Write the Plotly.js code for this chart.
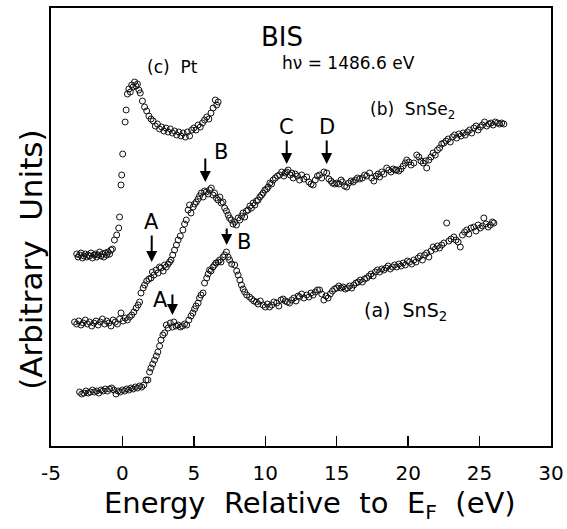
<!DOCTYPE html>
<html>
<head>
<meta charset="utf-8">
<script src="https://cdn.plot.ly/plotly-3.0.1.min.js"></script>
<style>html,body{margin:0;padding:0;background:#fff;}#chart{width:567px;height:529px;}</style>
</head>
<body>
<div id="chart"></div>
<script>
// (c) Pt
const ptE = [-3.2,-3.1,-3.0,-2.9,-2.8,-2.7,-2.6,-2.5,-2.4,-2.3,-2.2,-2.1,-2.0,-1.9,-1.8,-1.7,-1.6,-1.5,-1.4,-1.3,-1.2,-1.1,-1.0,-0.9,
  -0.8,-0.7,-0.56,-0.4,-0.26,-0.2,-0.1,-0.05,0.02,0.19,0.26,0.35,0.45,0.55,0.65,0.75,0.85,0.95,1.05,1.15,1.25,
  1.4,1.55,1.7,1.85,2.0,2.15,2.3,2.45,2.6,2.75,2.9,3.05,3.2,3.35,3.5,3.65,3.8,3.95,4.1,4.25,4.4,4.55,4.7,4.85,
  5.0,5.15,5.3,5.45,5.6,5.75,5.9,6.05,6.2,6.35,6.5,6.6,6.7];
const ptY = [192,189,191,193,188,190,192,189,191,190,193,188,191,192,189,191,194,190,192,189,193,191,194,192,
  196,197,206,211,218,229,261,271,292,324,336,352,357,354,361,359,364,360,362,356,353,
  345,339,335,330,327,325,320,322,317,319,315,318,314,317,313,315,311,314,310,313,309,314,310,316,
  318,316,321,319,323,326,329,327,333,338,346,341,344];

// (b) SnSe2
const seE = [-3.35,-3.2,-3.05,-2.9,-2.75,-2.6,-2.45,-2.3,-2.15,-2.0,-1.85,-1.7,-1.55,-1.4,-1.25,-1.1,-0.95,-0.8,-0.65,-0.5,-0.35,-0.2,-0.1,0.05,0.2,0.35,0.5,0.65,0.8,0.96,1.1,1.2,1.3,1.45,1.55,1.7,1.85,2.0,2.1,2.2,2.36,2.5,2.6,2.7,2.85,2.95,3.07,3.2,3.3,3.4,3.52,3.65,3.78,3.9,4.05,4.23,4.35,4.47,4.6,4.7,4.8,4.95,5.05,5.17,5.3,5.4,5.52,5.65,5.75,5.87,6.0,6.1,6.22,6.34,6.45,6.58,6.7,6.82,6.92,7.04,7.16,7.28,7.4,7.5,7.62,7.74,7.86,7.98,8.1,8.22,8.34,8.44,8.56,8.68,8.8,8.92,9.03,9.15,9.27,9.38,9.5,9.62,9.74,9.85,9.97,10.1,10.2,10.32,10.44,10.55,10.7,10.85,11.0,11.15,11.3,11.4,11.5,11.6,11.75,11.85,11.95,12.1,12.25,12.4,12.55,12.7,12.9,13.05,13.2,13.35,13.5,13.65,13.8,13.95,14.1,14.3,14.45,14.6,14.7,14.85,15.0,15.15,15.3,15.4,15.55,15.7,15.85,16.0,16.15,16.3,16.45,16.6,16.8,16.95,17.1,17.3,17.45,17.6,17.75,17.9,18.0,18.15,18.3,18.5,18.65,18.8,18.95,19.1,19.2,19.35,19.5,19.65,19.8,19.9,20.05,20.2,20.4,20.6,20.75,20.9,21.05,21.2,21.3,21.45,21.6,21.75,21.9,22.05,22.2,22.35,22.5,22.65,22.8,22.95,23.1,23.25,23.4,23.55,23.7,23.85,24.0,24.15,24.3,24.45,24.6,24.75,24.9,25.05,25.2,25.35,25.5,25.65,25.8,25.95,26.1,26.25,26.4,26.55,26.7];
const seY = [124,122,125,121,123,126,122,124,120,123,125,121,124,127,122,125,123,120,126,124,122,127,133,125,128,126,129,131,134,138,141,144,153,158,161,165,167,168,174,171,176,173,179,178,175,181,179,182,184,186,191,196,201,206,210,216,222,226,236,241,233,239,242,244,247,250,253,249,255,254,252,256,258,251,253,248,246,249,243,244,238,235,231,228,226,222,224,221,228,226,230,233,229,235,236,240,238,243,241,245,246,249,251,253,256,257,259,263,262,266,268,270,271,274,270,273,274,276,271,273,268,272,270,266,271,267,269,264,262,261,266,270,271,268,274,273,267,265,263,262,263,262,266,264,260,259,263,265,264,266,268,267,268,271,270,273,268,265,270,272,269,274,272,278,276,274,277,276,276,275,277,280,283,286,284,281,283,291,289,285,283,285,278,286,289,293,291,296,298,302,303,305,307,304,309,311,308,312,310,313,311,314,316,313,318,320,316,319,321,324,320,322,323,321,324,323,322,323,322];

// (a) SnS2
const sE = [-3.0,-2.85,-2.7,-2.55,-2.4,-2.25,-2.1,-1.95,-1.8,-1.65,-1.5,-1.35,-1.2,-1.05,-0.9,-0.75,-0.6,-0.45,-0.3,-0.15,0.0,0.15,0.3,0.45,0.6,0.75,0.9,1.05,1.2,1.35,1.5,1.65,1.78,1.9,2.0,2.12,2.25,2.37,2.48,2.6,2.7,2.83,2.95,3.07,3.2,3.35,3.5,3.6,3.75,3.9,4.05,4.2,4.35,4.5,4.65,4.8,4.93,5.05,5.15,5.3,5.4,5.5,5.64,5.75,5.9,6.0,6.1,6.2,6.34,6.45,6.55,6.7,6.8,6.9,7.04,7.15,7.28,7.4,7.5,7.65,7.86,8.0,8.1,8.22,8.33,8.45,8.56,8.7,8.9,9.05,9.2,9.38,9.5,9.65,9.85,10.0,10.15,10.3,10.45,10.6,10.8,10.95,11.1,11.25,11.4,11.55,11.7,11.85,12.0,12.15,12.3,12.4,12.55,12.7,12.9,13.05,13.2,13.35,13.5,13.65,13.8,13.95,14.1,14.25,14.4,14.55,14.7,14.85,15.0,15.15,15.3,15.45,15.6,15.75,15.9,16.05,16.2,16.35,16.5,16.65,16.8,16.95,17.1,17.25,17.4,17.55,17.7,17.85,18.0,18.15,18.3,18.45,18.6,18.75,18.9,19.05,19.2,19.35,19.5,19.65,19.8,19.95,20.1,20.25,20.4,20.55,20.7,20.85,21.0,21.15,21.3,21.45,21.6,21.75,21.9,22.05,22.2,22.35,22.5,22.7,22.85,23.0,23.2,23.35,23.5,23.65,23.8,23.95,24.1,24.25,24.4,24.6,24.75,24.9,25.05,25.2,25.3,25.45,25.6,25.75,25.9,26.0];
const sY = [54,52,53,55,53,54,56,54,55,53,56,55,57,55,57,58,56,52,55,54,56,55,57,56,58,57,59,58,60,59,61,66,66,74,78,82,86,90,94,100,106,111,113,121,118,123,119,124,120,121,119,120,122,121,126,130,133,137,140,143,148,151,153,163,168,172,176,175,179,181,183,184,186,184,189,191,194,189,186,182,181,175,171,166,161,157,154,151,149,147,145,144,142,145,141,139,142,139,141,144,143,140,146,147,145,144,143,146,148,145,150,149,152,148,151,149,153,151,154,156,156,152,146,150,148,152,155,157,158,160,158,159,157,158,160,158,161,163,164,166,164,167,168,170,172,170,174,176,174,177,176,178,180,177,179,181,179,182,180,183,181,185,184,182,186,184,188,190,186,191,193,189,195,199,197,200,198,201,203,223,205,207,209,206,204,199,211,214,216,212,218,219,215,221,218,220,228,222,219,221,224,223];

const tickVals = [-5, 0, 5, 10, 15, 20, 25, 30];
const tickText = ['-5', '0', '5', '10', '15', '20', '25', '30'];

const FONT = '"DejaVu Sans", "Liberation Sans", sans-serif';
const mk = {symbol: 'circle-open', size: 6, color: '#111', line: {width: 1, color: '#111'}};
const traces = [
  {x: ptE, y: ptY, mode: 'markers', type: 'scatter', marker: mk, name: 'Pt'},
  {x: seE, y: seY, mode: 'markers', type: 'scatter', marker: mk, name: 'SnSe2'},
  {x: sE, y: sY, mode: 'markers', type: 'scatter', marker: mk, name: 'SnS2'}
];

function arrow(x, y, ay, t) {
  return {x: x, y: y, xref: 'x', yref: 'y', text: t || '', showarrow: true, ax: 0, ay: ay,
    arrowhead: 2, arrowsize: 1.1, arrowwidth: 2, arrowcolor: '#000',
    font: {family: FONT, size: 21, color: '#000'}};
}
function lbl(x, y, t, s) {
  return {x: x, y: y, xref: 'x', yref: 'y', text: t, showarrow: false,
    font: {family: FONT, size: s || 21, color: '#000'}};
}
function ptxt(x, y, t, s) {
  return {x: x, y: y, xref: 'paper', yref: 'paper', text: t, showarrow: false,
    xanchor: 'center', yanchor: 'middle', font: {family: FONT, size: s, color: '#000'}};
}

const layout = {
  width: 567, height: 529,
  margin: {l: 51, r: 16, t: 8, b: 83},
  paper_bgcolor: '#fff', plot_bgcolor: '#fff',
  showlegend: false,
  xaxis: {range: [-5, 30], tickmode: 'array', tickvals: tickVals, ticktext: tickText, ticks: 'inside', ticklen: 10, tickwidth: 1.5,
    tickcolor: '#000', showline: true, mirror: true, linewidth: 2, linecolor: '#000', showgrid: false,
    zeroline: false, ticklabelstandoff: 8, tickfont: {family: FONT, size: 20, color: '#000'}},
  yaxis: {range: [0, 438], showticklabels: false, ticks: '', showline: true, mirror: true, linewidth: 2,
    linecolor: '#000', showgrid: false, zeroline: false},
  annotations: [
    ptxt(-0.04, 0.425, '(Arbitrary  Units)', 31),
    ptxt(0.518, -0.135, 'Energy  Relative  to  E<sub>F</sub>  (eV)', 29),
    ptxt(0.462, 0.934, 'BIS', 26),
    ptxt(0.594, 0.874, 'hν = 1486.6 eV', 17),
    ptxt(0.242, 0.865, '(c)  Pt', 17),
    ptxt(0.722, 0.767, '(b)  SnSe<sub>2</sub>', 17),
    ptxt(0.708, 0.306, '(a)  SnS<sub>2</sub>', 19),
    arrow(2.05, 184, -40, 'A'),
    arrow(5.8, 264, -25), lbl(6.9, 294, 'B'),
    arrow(3.5, 131, -22), lbl(2.67, 146, 'A'),
    arrow(7.3, 201, -18), lbl(8.5, 204, 'B'),
    arrow(11.5, 282, -37, 'C'),
    arrow(14.3, 282, -37, 'D')
  ]
};
layout.annotations[0].textangle = -90;

Plotly.newPlot('chart', traces, layout, {displayModeBar: false, staticPlot: true});
</script>
</body>
</html>
